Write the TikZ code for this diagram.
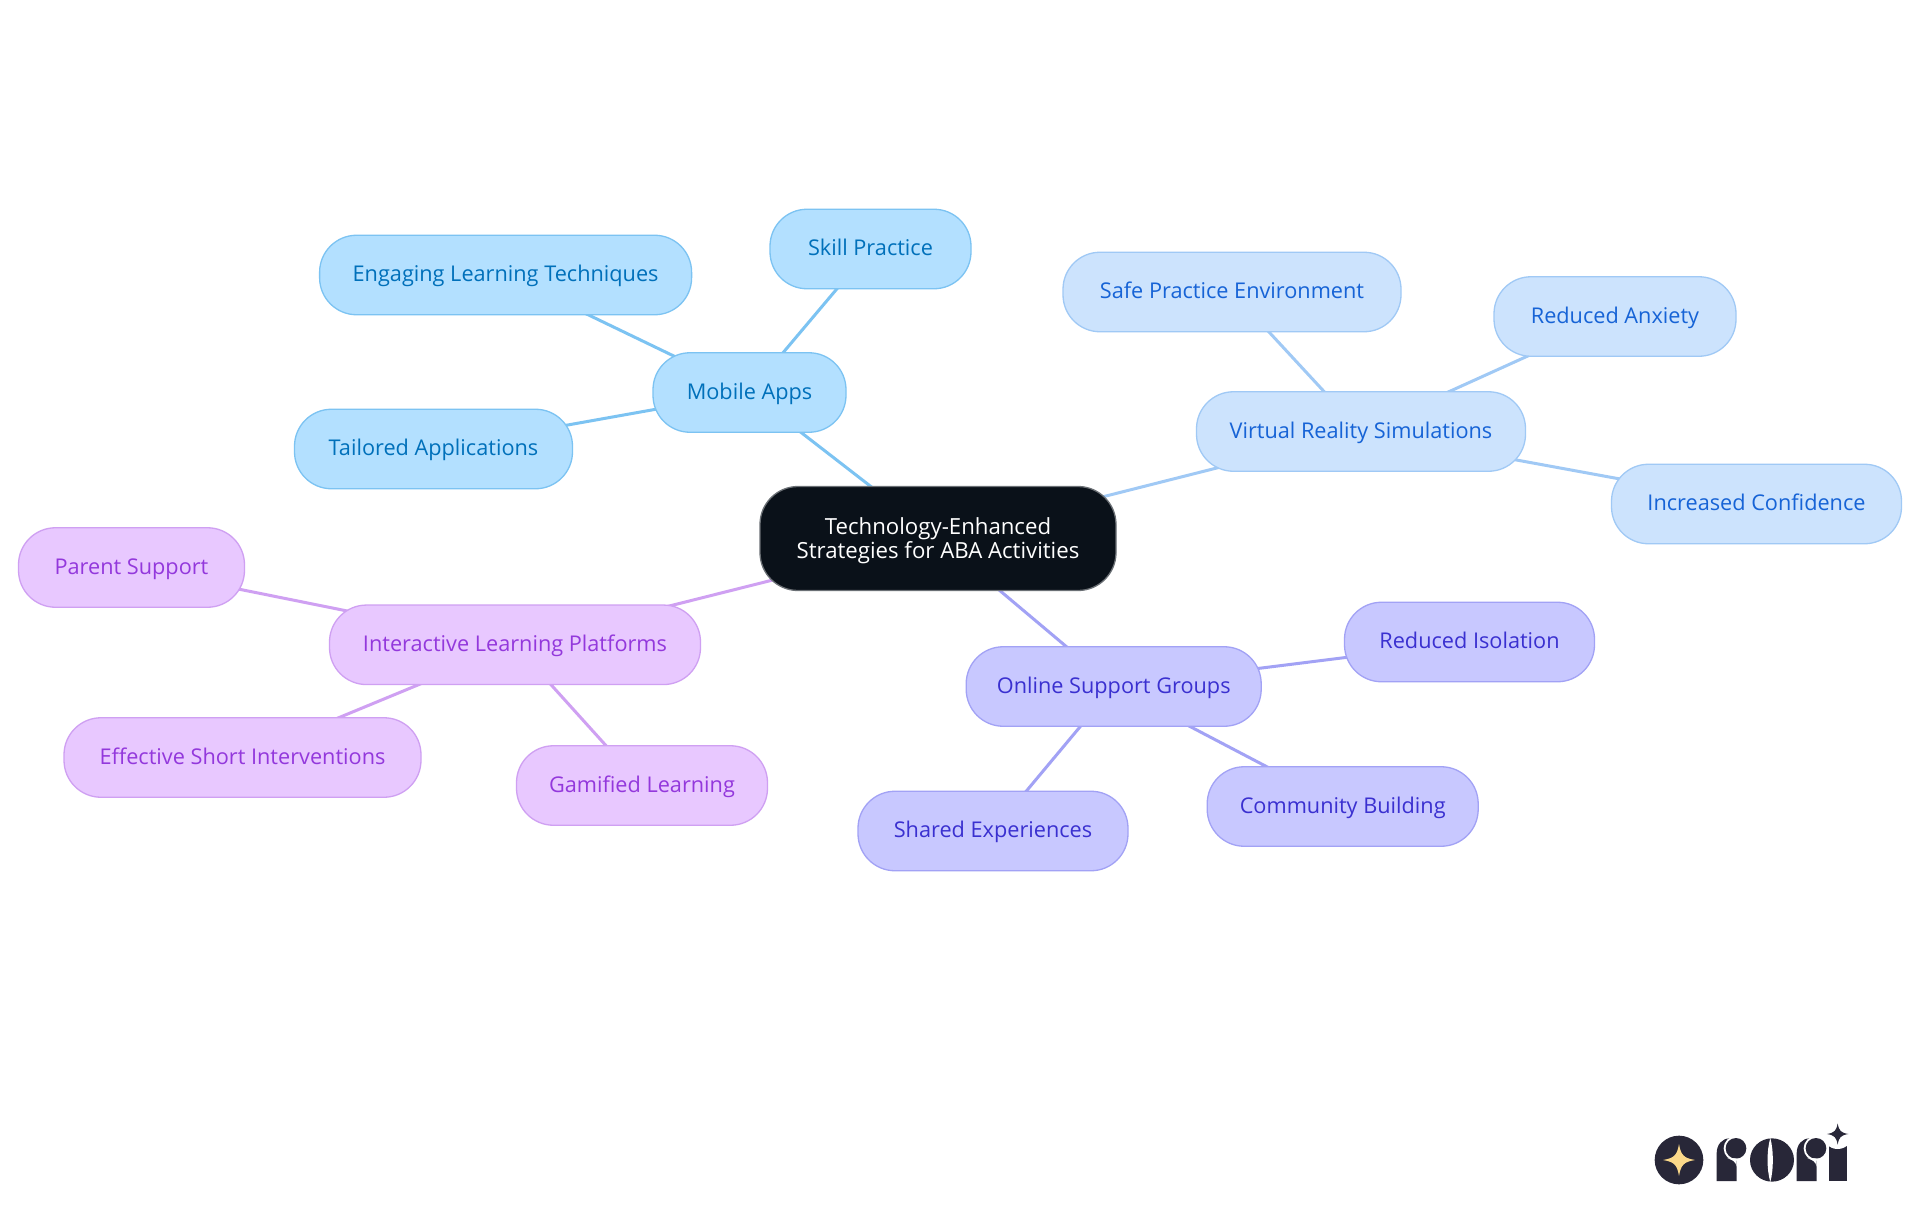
\documentclass[tikz,border=0pt]{standalone}
\usepackage{fontspec}
\setmainfont{Open Sans}
\usetikzlibrary{backgrounds}
\definecolor{rootfill}{HTML}{0A1119}
\definecolor{rootline}{HTML}{6B7075}
\definecolor{afill}{HTML}{B3E0FF}\definecolor{aline}{HTML}{7CC3F2}\definecolor{atext}{HTML}{0070BA}
\definecolor{bfill}{HTML}{CCE3FD}\definecolor{bline}{HTML}{A0C9F5}\definecolor{btext}{HTML}{1663D6}
\definecolor{cfill}{HTML}{C8C8FF}\definecolor{cline}{HTML}{A2A2F5}\definecolor{ctext}{HTML}{3A30D0}
\definecolor{dfill}{HTML}{E8C8FF}\definecolor{dline}{HTML}{CFA0F2}\definecolor{dtext}{HTML}{9338DC}
\definecolor{logodark}{HTML}{282738}
\definecolor{logostar}{HTML}{FBD98A}
\tikzset{
  mm/.style={draw,line width=1.3pt,rounded corners=37pt,minimum height=79.5pt,inner sep=0pt,font=\fontsize{21.7}{24}\selectfont,text height=16.5pt,text depth=3.5pt},
  abox/.style={mm,fill=afill,draw=aline,text=atext},
  bbox/.style={mm,fill=bfill,draw=bline,text=btext},
  cbox/.style={mm,fill=cfill,draw=cline,text=ctext},
  dbox/.style={mm,fill=dfill,draw=dline,text=dtext},
  rootbox/.style={draw,line width=1.3pt,inner sep=0pt,align=center,fill=rootfill,draw=rootline,text=white,rounded corners=38pt,minimum height=104pt,minimum width=356pt,font=\fontsize{22.2}{24}\selectfont},
  link/.style={line width=3pt},
  alink/.style={link,draw=aline},
  blink/.style={link,draw=bline},
  clink/.style={link,draw=cline},
  dlink/.style={link,draw=dline},
}
\newcommand{\fourstar}[3]{% centre, radius, colour
  \fill[#3,shift={(#1)},x=#2*0.3333pt,y=#2*0.3333pt] (0,-1) .. controls (0.12,-0.3) and (0.3,-0.12) .. (1,0)
     .. controls (0.3,0.12) and (0.12,0.3) .. (0,1)
     .. controls (-0.12,0.3) and (-0.3,0.12) .. (-1,0)
     .. controls (-0.3,-0.12) and (-0.12,-0.3) .. (0,-1) -- cycle;}
\begin{document}
\begin{tikzpicture}[x=1pt,y=-1pt]
\useasboundingbox (0,0) rectangle (1920,1215);
\node[rootbox] (root) at (938,538.5) {\rule{0pt}{21.5pt}Technology-Enhanced\\Strategies for ABA Activities};
\node[abox,minimum width=193pt] (mobile) at (749.5,392.5) {Mobile Apps};
\node[abox,minimum width=201pt] (skill) at (870.5,249) {Skill Practice};
\node[abox,minimum width=372pt] (engaging) at (505.6,275) {Engaging Learning Techniques};
\node[abox,minimum width=278pt] (tailored) at (433.5,449) {Tailored Applications};
\node[bbox,minimum width=329pt] (vr) at (1361,431.5) {Virtual Reality Simulations};
\node[bbox,minimum width=338pt] (safe) at (1232,292) {Safe Practice Environment};
\node[bbox,minimum width=242pt] (anxiety) at (1615,316.5) {Reduced Anxiety};
\node[bbox,minimum width=290pt] (confidence) at (1756.5,504) {Increased Confidence};
\node[cbox,minimum width=295pt] (online) at (1113.7,686.5) {Online Support Groups};
\node[cbox,minimum width=250pt] (isolation) at (1469.5,642) {Reduced Isolation};
\node[cbox,minimum width=271pt] (community) at (1342.7,806.5) {Community Building};
\node[cbox,minimum width=270pt] (shared) at (993,831) {Shared Experiences};
\node[dbox,minimum width=371pt] (interactive) at (515,644.8) {Interactive Learning Platforms};
\node[dbox,minimum width=226pt] (parent) at (131.5,567.5) {Parent Support};
\node[dbox,minimum width=357pt] (effective) at (242.5,757.5) {Effective Short Interventions};
\node[dbox,minimum width=251pt] (gamified) at (642,785.5) {Gamified Learning};
\begin{pgfonlayer}{background}
\fill[white] (0,0) rectangle (1920,1215);
\draw[alink] (root.center) -- (mobile.center);
\draw[alink] (mobile.center) -- (skill.center);
\draw[alink] (mobile.center) -- (engaging.center);
\draw[alink] (mobile.center) -- (tailored.center);
\draw[blink] (root.center) -- (vr.center);
\draw[blink] (vr.center) -- (safe.center);
\draw[blink] (vr.center) -- (anxiety.center);
\draw[blink] (vr.center) -- (confidence.center);
\draw[clink] (root.center) -- (online.center);
\draw[clink] (online.center) -- (isolation.center);
\draw[clink] (online.center) -- (community.center);
\draw[clink] (online.center) -- (shared.center);
\draw[dlink] (root.center) -- (interactive.center);
\draw[dlink] (interactive.center) -- (parent.center);
\draw[dlink] (interactive.center) -- (effective.center);
\draw[dlink] (interactive.center) -- (gamified.center);
\end{pgfonlayer}
% logo
\begin{scope}[shift={(1620,1100)},x=0.3333pt,y=-0.3333pt]
\fill[logodark] (177,180) circle[radius=73];
\fourstar{177,180}{48}{logostar}
% first r
\fill[logodark] (290,243) -- (290,160) .. controls (290,135) and (305,115) .. (330,115) -- (350,130) -- (350,243) -- cycle;
\fill[white] (348,145) circle[radius=37];
\fill[logodark] (348,145) circle[radius=31];
\fill[white] (322,175) -- (350,175) -- (350,200) .. controls (348,185) and (335,178) .. (322,175) -- cycle;
% o
\fill[logodark] (456,180) ellipse[x radius=66,y radius=65];
\fill[white] (451,114) .. controls (440,150) and (440,210) .. (451,246) .. controls (461,210) and (461,150) .. (451,114) -- cycle;
% second r
\fill[logodark] (530,243) -- (530,160) .. controls (530,135) and (545,115) .. (570,115) -- (590,130) -- (590,243) -- cycle;
\fill[white] (588,145) circle[radius=37];
\fill[logodark] (588,145) circle[radius=31];
\fill[white] (562,175) -- (590,175) -- (590,200) .. controls (588,185) and (575,178) .. (562,175) -- cycle;
% i
\fill[logodark] (627,243) -- (627,135) -- (680,135) -- (680,243) -- cycle;
\fill[white] (653,102) circle[radius=45];
\fourstar{653,102}{32}{logodark}
\end{scope}
\end{tikzpicture}
\end{document}
